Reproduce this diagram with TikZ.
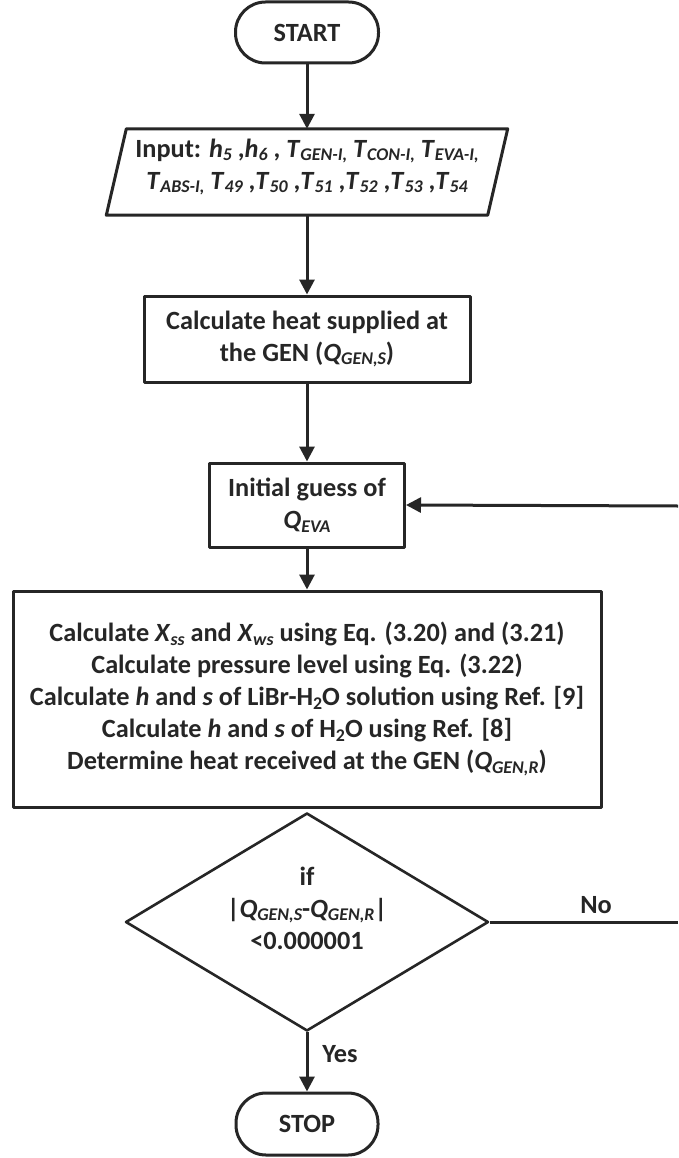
\documentclass[tikz,border=0pt]{standalone}
\usepackage{fontspec}
\setmainfont{Carlito}
\usepackage{graphicx}
\usetikzlibrary{arrows.meta,shapes.geometric,calc}
\definecolor{ink}{RGB}{38,38,38}
\newcommand\sbi[1]{\raisebox{-0.3ex}{\scalebox{0.68}{\itshape #1}}}
\newcommand\sbu[1]{\raisebox{-0.3ex}{\scalebox{0.68}{#1}}}
\begin{document}
\begin{tikzpicture}[x=1pt,y=-1pt,
  font=\fontsize{26.3}{32}\selectfont\bfseries,
  box/.style={draw=ink,line width=3pt,line join=round,rectangle,inner sep=0pt,align=center,text=ink},
  term/.style={box,rounded corners=30pt},
  flow/.style={draw=ink,line width=3pt,-{Triangle[length=15pt,width=15pt]}},
  plain/.style={draw=ink,line width=3pt},
  lbl/.style={text=ink,inner sep=0pt,align=center}]
\fill[white] (0,0) rectangle (678,1158);
\useasboundingbox (0,0) rectangle (678,1158);

\node[term,minimum width=143pt,minimum height=61pt] (start) at (307,32.5) {START};

\node[inner sep=0pt,minimum width=381pt,minimum height=86pt] (inp) at (307,172) {};
\draw[ink,line width=3pt,line join=round]
  ($(inp.north west)+(10,0)$) -- ($(inp.north east)+(10,0)$) --
  ($(inp.south east)+(-10,0)$) -- ($(inp.south west)+(-10,0)$) -- cycle;
\node[lbl] (inptext) at (307,167)
  {Input: \textit{h}\sbi{5} ,\textit{h}\sbi{6} , \textit{T}\sbi{GEN-I,} \textit{T}\sbi{CON-I,} \textit{T}\sbi{EVA-I,}\\
   \textit{T}\sbi{ABS-I,} \textit{T}\sbi{49} ,\textit{T}\sbi{50} ,\textit{T}\sbi{51} ,\textit{T}\sbi{52} ,\textit{T}\sbi{53} ,\textit{T}\sbi{54}};

\node[box,minimum width=326pt,minimum height=86pt] (heat) at (307,339)
  {Calculate heat supplied at\\the GEN (\textit{Q}\sbi{GEN,S})};

\node[box,minimum width=195pt,minimum height=84pt] (guess) at (307,505)
  {Initial guess of\\\textit{Q}\sbi{EVA}};

\node[box,minimum width=588pt,minimum height=216pt] (big) at (307,699)
  {Calculate \textit{X}\sbi{ss} and \textit{X}\sbi{ws} using Eq. (3.20) and (3.21)\\
   Calculate pressure level using Eq. (3.22)\\
   Calculate \textit{h} and \textit{s} of LiBr-H\sbu{2}O solution using Ref. [9]\\
   Calculate \textit{h} and \textit{s} of H\sbu{2}O using Ref. [8]\\
   Determine heat received at the GEN (\textit{Q}\sbi{GEN,R})};

\node[diamond,draw=ink,line width=2.6pt,line join=round,inner sep=0pt,aspect=1.665,
      minimum width=363pt,minimum height=218pt] (dia) at (307,922) {};
\node[lbl] (dtext) at (307,908)
  {if\\|\textit{Q}\sbi{GEN,S}-\textit{Q}\sbi{GEN,R}|\\<0.000001};

\node[term,minimum width=142pt,minimum height=62pt] (stop) at (307,1124) {STOP};

\node[lbl] (yes) at (340,1054) {Yes};
\node[lbl] (no) at (596,905) {No};

\coordinate (noend) at (678,922);
\coordinate (fbk) at (678,506);

\draw[flow] (start.south) -- (inp.north);
\draw[flow] (inp.south) -- (heat.north);
\draw[flow] (heat.south) -- (guess.north);
\draw[flow] (guess.south) -- (big.north);
\draw[flow] (dia.south) -- (stop.north);
\draw[plain] (dia.east) -- (noend);
\draw[flow] (fbk) -- (guess.east);
\end{tikzpicture}
\end{document}
